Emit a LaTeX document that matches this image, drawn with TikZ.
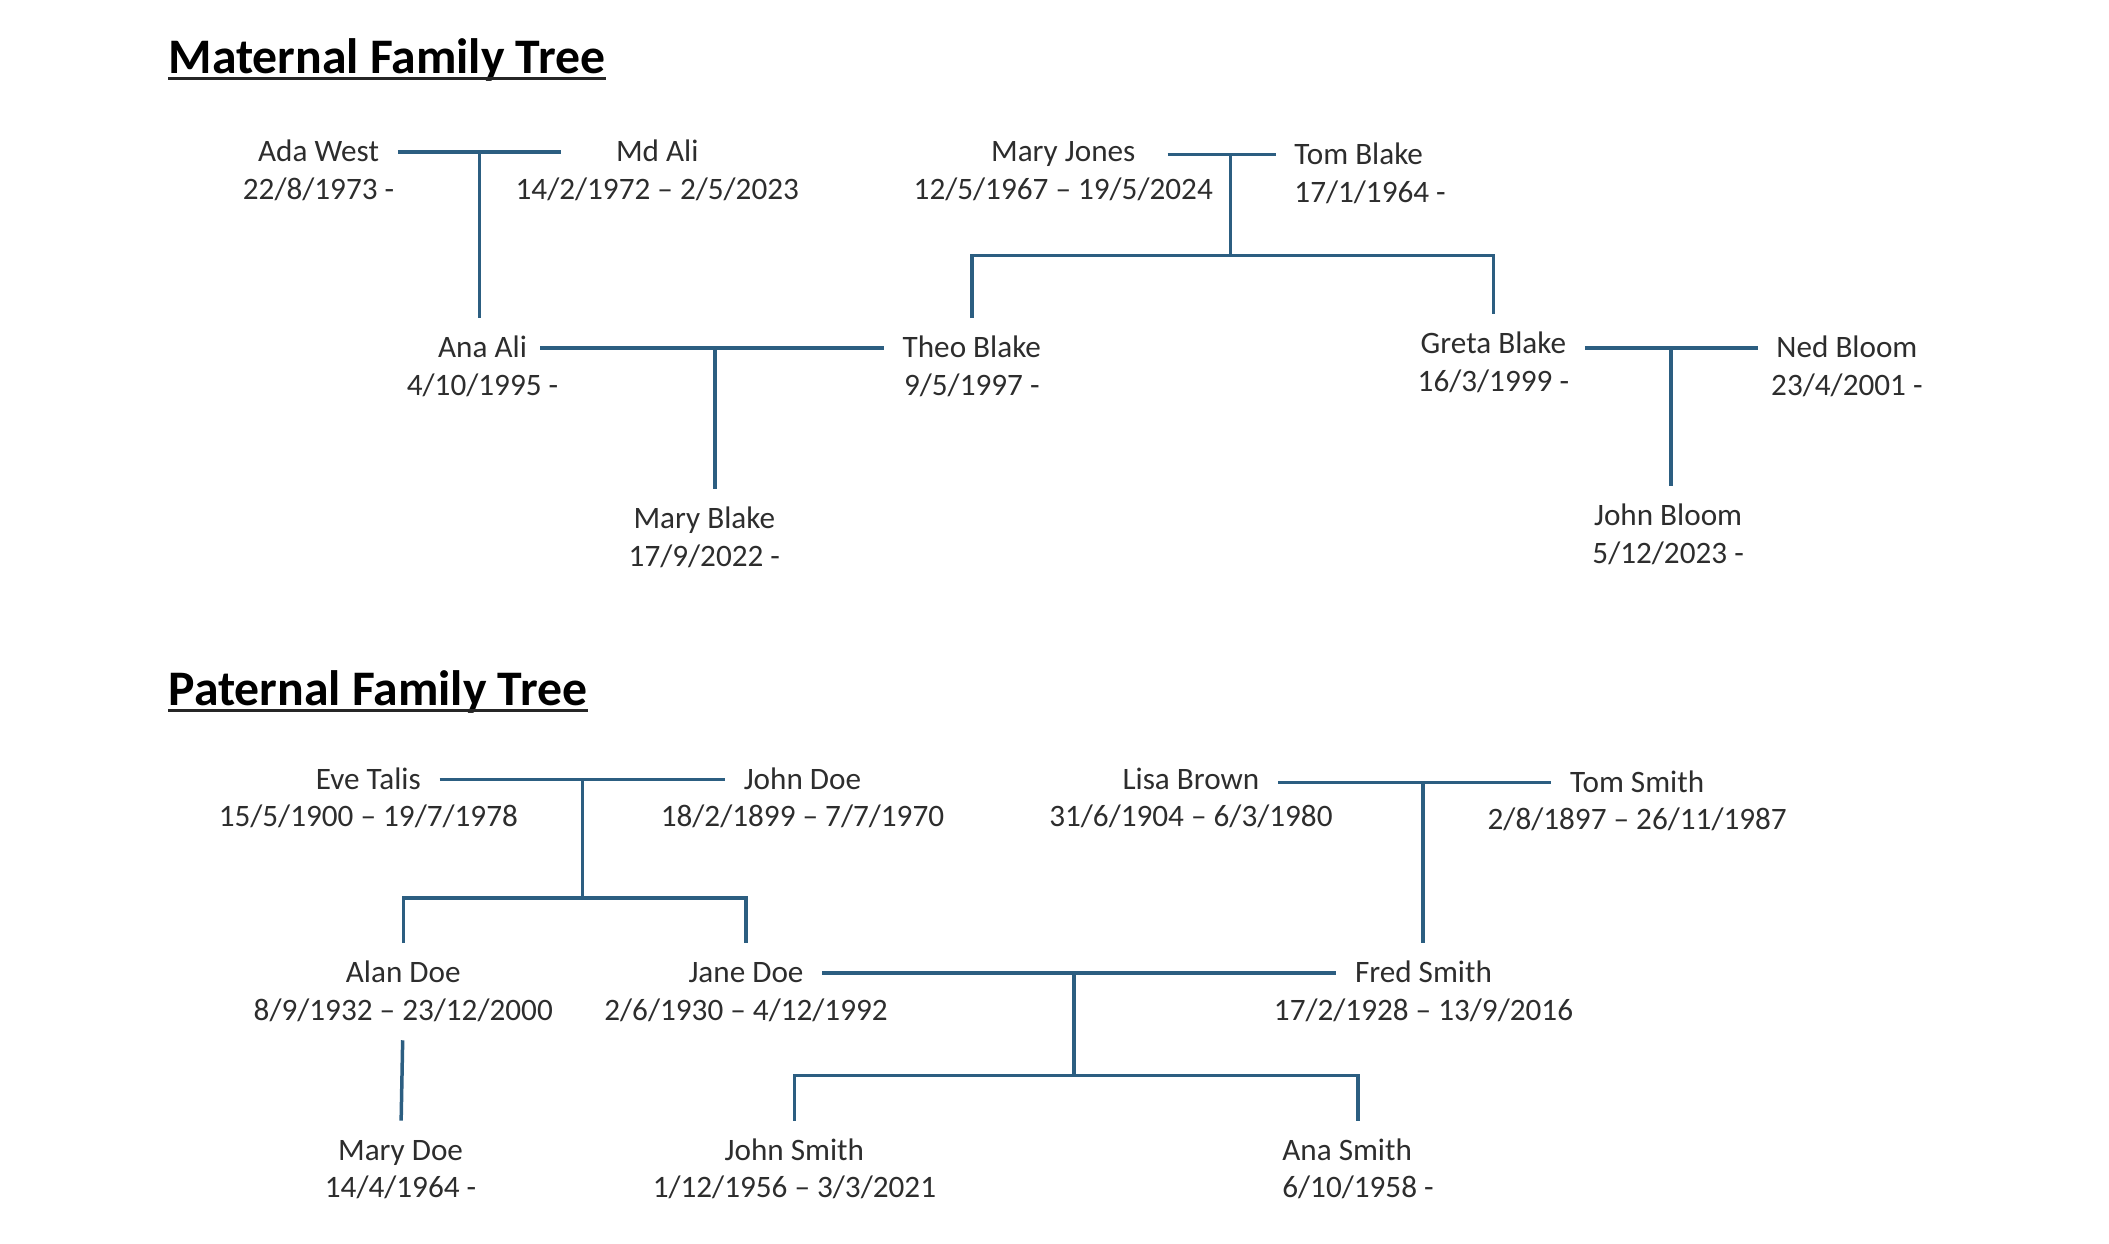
\documentclass[tikz,border=0pt]{standalone}
\usepackage{fontspec}
\setmainfont{Carlito}
\usetikzlibrary{calc}
\definecolor{lineblue}{RGB}{44,94,129}
\definecolor{textgrey}{RGB}{45,45,45}

\begin{document}
\begin{tikzpicture}[x=0.5pt, y=-0.5pt]

\tikzstyle{famname}=[font=\fontsize{11.6}{14}\selectfont, text=textgrey,
inner sep=0pt, outer sep=7pt, text height=7.8pt, text depth=0.5pt]
\tikzstyle{famdate}=[famname]
\tikzstyle{famline}=[draw=lineblue, line width=1.3pt]
\tikzstyle{famtitle}=[font=\fontsize{18.5}{22}\selectfont\bfseries,
inner sep=0pt, anchor=base west]
\tikzstyle{titlerule}=[draw=black!85, line width=1pt]

\useasboundingbox (0,0) rectangle (1569,925);

% maternal side
\node[famtitle] (mattitle) at (125,55) {Maternal Family Tree};
\draw[titlerule] ([yshift=-1.8pt]mattitle.base west) -- ([yshift=-1.8pt]mattitle.base east);

\node[famname] (adawest) at (237,113) {Ada West};
\node[famdate] (adawest-d) at ([yshift=-14pt]adawest.center) {22/8/1973 -};
\node[famname] (mdali) at (489,113) {Md Ali};
\node[famdate] (mdali-d) at ([yshift=-14pt]mdali.center) {14/2/1972 -- 2/5/2023};
\node[famname] (maryjones) at (791,113) {Mary Jones};
\node[famdate] (maryjones-d) at ([yshift=-14pt]maryjones.center) {12/5/1967 -- 19/5/2024};
\node[famname, anchor=west] (tomblake) at (949,115) {Tom Blake};
\node[famdate, anchor=west] (tomblake-d) at ([yshift=-14pt]tomblake.west) {17/1/1964 -};

\node[famname] (anaali) at (359,259) {Ana Ali};
\node[famdate] (anaali-d) at ([yshift=-14pt]anaali.center) {4/10/1995 -};
\node[famname] (theoblake) at (723,259) {Theo Blake};
\node[famdate] (theoblake-d) at ([yshift=-14pt]theoblake.center) {9/5/1997 -};
\node[famname] (gretablake) at (1111,256) {Greta Blake};
\node[famdate] (gretablake-d) at ([yshift=-14pt]gretablake.center) {16/3/1999 -};
\node[famname] (nedbloom) at (1374,259) {Ned Bloom};
\node[famdate] (nedbloom-d) at ([yshift=-14pt]nedbloom.center) {23/4/2001 -};

\node[famname] (maryblake) at (524,386) {Mary Blake};
\node[famdate] (maryblake-d) at ([yshift=-14pt]maryblake.center) {17/9/2022 -};
\node[famname] (johnbloom) at (1241,384) {John Bloom};
\node[famdate] (johnbloom-d) at ([yshift=-14pt]johnbloom.center) {5/12/2023 -};

\draw[famline, shorten >=13.5pt] (adawest) -- coordinate[pos=.41] (jam) (mdali);
\draw[famline] (jam) -- (jam |- anaali.north);
\draw[famline, shorten <=5pt] (maryjones.east |- tomblake.west) -- coordinate[pos=.63] (jmt) (tomblake.west);
\draw[famline] (jmt) -- ++(0,75) coordinate (jmtbar);
\draw[famline] (theoblake.north) |- (jmtbar) -| (gretablake.north);
\draw[famline, shorten <=-2pt] (anaali) -- coordinate (jat) (theoblake);
\draw[famline] (jat) -- (jat |- maryblake.north);
\draw[famline] (gretablake.east |- nedbloom.west) -- coordinate (jgn) (nedbloom.west);
\draw[famline] (jgn) -- (jgn |- johnbloom.north);

% paternal side
\node[famtitle] (pattitle) at (125,525) {Paternal Family Tree};
\draw[titlerule] ([yshift=-1.8pt]pattitle.base west) -- ([yshift=-1.8pt]pattitle.base east);

\node[famname] (evetalis) at (274,580) {Eve Talis};
\node[famdate] (evetalis-d) at ([yshift=-13.8pt]evetalis.center) {15/5/1900 -- 19/7/1978};
\node[famname] (johndoe) at (597,580) {John Doe};
\node[famdate] (johndoe-d) at ([yshift=-13.8pt]johndoe.center) {18/2/1899 -- 7/7/1970};
\node[famname] (lisabrown) at (886,580) {Lisa Brown};
\node[famdate] (lisabrown-d) at ([yshift=-13.8pt]lisabrown.center) {31/6/1904 -- 6/3/1980};
\node[famname] (tomsmith) at (1218,582) {Tom Smith};
\node[famdate] (tomsmith-d) at ([yshift=-13.8pt]tomsmith.center) {2/8/1897 -- 26/11/1987};

\node[famname] (alandoe) at (300,724) {Alan Doe};
\node[famdate] (alandoe-d) at ([yshift=-13.8pt]alandoe.center) {8/9/1932 -- 23/12/2000};
\node[famname] (janedoe) at (555,724) {Jane Doe};
\node[famdate] (janedoe-d) at ([yshift=-13.8pt]janedoe.center) {2/6/1930 -- 4/12/1992};
\node[famname] (fredsmith) at (1059,724) {Fred Smith};
\node[famdate] (fredsmith-d) at ([yshift=-13.8pt]fredsmith.center) {17/2/1928 -- 13/9/2016};

\node[famname] (marydoe) at (298,856) {Mary Doe};
\node[famdate] (marydoe-d) at ([yshift=-13.8pt]marydoe.center) {14/4/1964 -};
\node[famname] (johnsmith) at (591,856) {John Smith};
\node[famdate] (johnsmith-d) at ([yshift=-13.8pt]johnsmith.center) {1/12/1956 -- 3/3/2021};
\node[famname, anchor=west] (anasmith) at (940,856) {Ana Smith};
\node[famdate, anchor=west] (anasmith-d) at ([yshift=-13.8pt]anasmith.west) {6/10/1958 -};

\draw[famline] (evetalis) -- coordinate (jej) (johndoe);
\draw[famline] (jej) -- ++(0,88) coordinate (jejbar);
\draw[famline] (alandoe.north) |- (jejbar) -| (janedoe.north);
\draw[famline] (lisabrown.east |- tomsmith.west) -- coordinate[pos=.53] (jlt) (tomsmith.west);
\draw[famline] (jlt) -- (jlt |- fredsmith.north);
\draw[famline] (janedoe) -- coordinate[pos=.49] (jjf) (fredsmith);
\draw[famline] (jjf) -- ++(0,76) coordinate (jjfbar);
\draw[famline] (johnsmith.north) |- (jjfbar) -| (anasmith-d.north |- anasmith.north);
\draw[famline] (alandoe-d) -- (marydoe);

\end{tikzpicture}
\end{document}
